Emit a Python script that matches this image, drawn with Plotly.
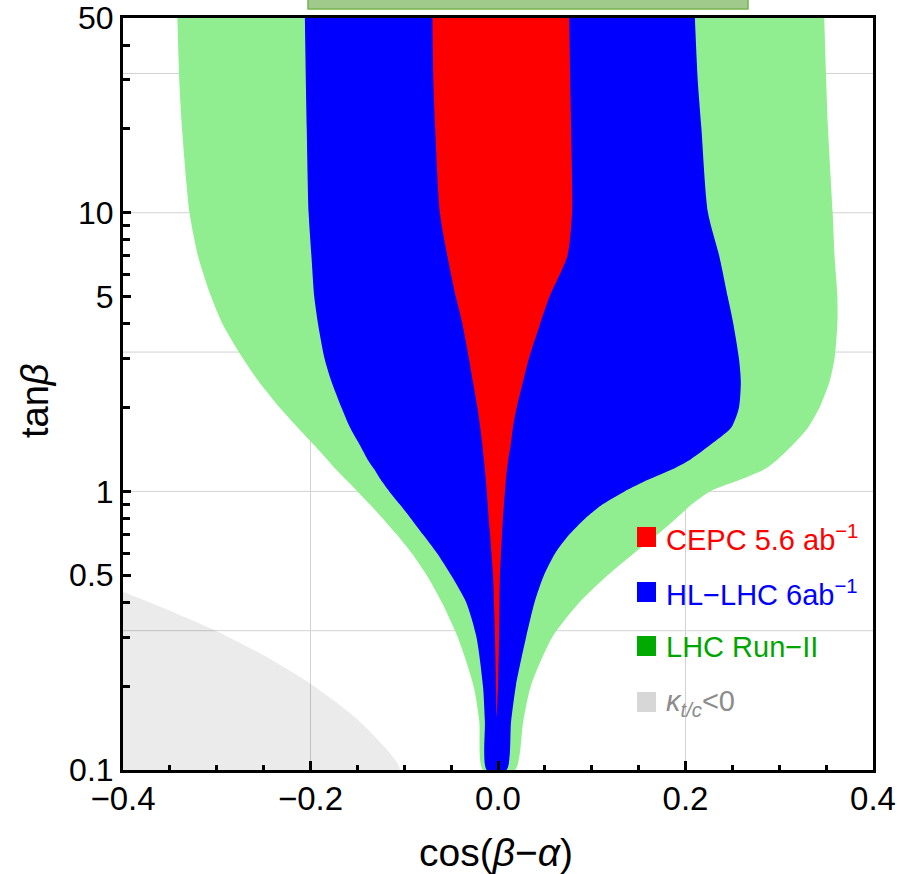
import math
import plotly.graph_objects as go

# ---------------- data ----------------
tanb = [50, 30, 20, 10, 7, 5, 4, 3, 2.5, 2, 1.7, 1.5, 1.3, 1.2, 1.1, 1.0,
        0.9, 0.8, 0.7, 0.6, 0.5, 0.4, 0.3, 0.2, 0.15, 0.1]

# LHC Run-II (light green) allowed band: left / right edge in cos(beta-alpha)
lhc_left = [-0.342, -0.340, -0.337, -0.329, -0.320, -0.306, -0.294, -0.272, -0.256,
            -0.233, -0.214, -0.199, -0.182, -0.173, -0.162, -0.150, -0.137, -0.123,
            -0.108, -0.092, -0.076, -0.060, -0.043, -0.026, -0.020, -0.016]
lhc_right = [0.348, 0.350, 0.352, 0.357, 0.359, 0.362, 0.362, 0.359, 0.354, 0.343,
             0.331, 0.317, 0.298, 0.284, 0.258, 0.226, 0.207, 0.190, 0.170, 0.145,
             0.117, 0.087, 0.058, 0.035, 0.027, 0.018]

# HL-LHC 6 ab^-1 (blue)
hl_left = [-0.206, -0.205, -0.204, -0.202, -0.199, -0.196, -0.192, -0.185, -0.178,
           -0.167, -0.158, -0.149, -0.139, -0.132, -0.125, -0.116, -0.105, -0.093,
           -0.080, -0.065, -0.050, -0.034, -0.023, -0.016, -0.014, -0.012]
hl_right = [0.210, 0.213, 0.217, 0.224, 0.236, 0.245, 0.251, 0.257, 0.259, 0.257,
            0.249, 0.230, 0.205, 0.186, 0.160, 0.135, 0.112, 0.093, 0.076, 0.061,
            0.049, 0.039, 0.030, 0.019, 0.014, 0.009]

# CEPC 5.6 ab^-1 (red), ends in a tip
cepc_tanb = [50, 30, 20, 10, 7, 5, 4, 3, 2.5, 2, 1.7, 1.5, 1.3, 1.2, 1.1, 1.0,
             0.9, 0.8, 0.7, 0.6, 0.5, 0.4, 0.3, 0.2, 0.155]
cepc_left = [-0.070, -0.069, -0.067, -0.062, -0.054, -0.045, -0.038, -0.031, -0.027,
             -0.022, -0.019, -0.017, -0.015, -0.014, -0.013, -0.012, -0.011, -0.010,
             -0.0085, -0.007, -0.0053, -0.0043, -0.0032, -0.0021, -0.0016]
cepc_right = [0.076, 0.077, 0.078, 0.079, 0.074, 0.055, 0.045, 0.033, 0.027, 0.020,
              0.016, 0.014, 0.011, 0.0096, 0.0085, 0.0075, 0.0064, 0.0053, 0.0043,
              0.0032, 0.0021, 0.0016, 0.0011, 0.0000, -0.0016]

# kappa_{t/c} < 0 (grey) boundary
kappa_x = [-0.4, -0.35, -0.3, -0.25, -0.2, -0.15, -0.105]
kappa_tanb = [0.436, 0.373, 0.315, 0.258, 0.204, 0.152, 0.1]

x_ticks = [-0.4, -0.2, 0.0, 0.2, 0.4]
x_ticktext = ["\u22120.4", "\u22120.2", "0.0", "0.2", "0.4"]
x_minor = [-0.35, -0.3, -0.25, -0.15, -0.1, -0.05, 0.05, 0.1, 0.15, 0.25, 0.3, 0.35]
y_ticks = [0.1, 0.5, 1, 5, 10, 50]
y_ticktext = ["0.1", "0.5", "1", "5", "10", "50"]
y_minor = [0.2, 0.3, 0.4, 0.6, 0.7, 0.8, 0.9, 2, 3, 4, 6, 7, 8, 9, 20, 30, 40]
x_grid = [-0.2, 0.0, 0.2]
y_grid = [10 ** 1.5, 10, 10 ** 0.5, 1, 10 ** -0.5]

legend_labels = ["CEPC 5.6 ab<sup>\u22121</sup>", "HL\u2212LHC 6ab<sup>\u22121</sup>",
                 "LHC Run\u2212II", "<i>\u03ba</i><sub><i>t/c</i></sub><0"]
legend_text_colors = ["#ff0000", "#0000ff", "#00a600", "#8c8c8c"]
legend_box_colors = ["#ff0000", "#0000ff", "#00aa00", "#d7d7d7"]

# ---------------- figure ----------------
W, H = 897, 874
ML, MR, MT, MB = 123, 24, 18, 104
PW, PH = W - ML - MR, H - MT - MB
YMIN, YMAX = 0.1, 50
FONT = "Liberation Sans, Arial, Helvetica, sans-serif"


def px2paper_x(px):
    return (px - ML) / PW


def px2paper_y(py):
    return (MT + PH - py) / PH


def val2paper_y(v):
    return (math.log10(v) - math.log10(YMIN)) / (math.log10(YMAX) - math.log10(YMIN))


fig = go.Figure()

# grey kappa region
fig.add_trace(go.Scatter(
    x=kappa_x + [kappa_x[0]], y=kappa_tanb + [kappa_tanb[-1]],
    fill="toself", fillcolor="rgba(0,0,0,0.08)", mode="lines",
    line=dict(width=0, shape="spline", smoothing=0.6), hoverinfo="skip", showlegend=False))


def band(left, right, yv, color):
    xs = list(left) + list(right)[::-1]
    ys = list(yv) + list(yv)[::-1]
    fig.add_trace(go.Scatter(
        x=xs, y=ys, fill="toself", fillcolor=color, mode="lines",
        line=dict(width=0, color=color, shape="spline", smoothing=0.7),
        hoverinfo="skip", showlegend=False))


band(lhc_left, lhc_right, tanb, "#90ee90")
band(hl_left, hl_right, tanb, "#0000ff")
# red band closing in a single tip point
xs_red = cepc_left + cepc_right[:-1][::-1]
ys_red = cepc_tanb + cepc_tanb[:-1][::-1]
fig.add_trace(go.Scatter(
    x=xs_red, y=ys_red, fill="toself", fillcolor="#ff0000", mode="lines",
    line=dict(width=0, color="#ff0000", shape="spline", smoothing=0.7),
    hoverinfo="skip", showlegend=False))

shapes = []
for gx in x_grid:
    shapes.append(dict(type="line", xref="x", yref="paper", x0=gx, x1=gx, y0=0, y1=1,
                       line=dict(color="#d2d2d2", width=1), layer="below"))
for gy in y_grid:
    p = val2paper_y(gy)
    shapes.append(dict(type="line", xref="paper", yref="paper", x0=0, x1=1, y0=p, y1=p,
                       line=dict(color="#d2d2d2", width=1), layer="below"))

# clipped box at the top of the image
shapes.append(dict(type="rect", xref="paper", yref="paper",
                   x0=px2paper_x(308), x1=px2paper_x(748),
                   y0=px2paper_y(9), y1=px2paper_y(-2),
                   fillcolor="#a0ca8c", line=dict(color="#78b450", width=1.5), layer="above"))

annotations = []
legend_centers = [537, 592, 646, 702]
for lab, tc, bc, cy in zip(legend_labels, legend_text_colors, legend_box_colors, legend_centers):
    shapes.append(dict(type="rect", xref="paper", yref="paper",
                       x0=px2paper_x(637), x1=px2paper_x(656),
                       y0=px2paper_y(cy + 10), y1=px2paper_y(cy - 10),
                       fillcolor=bc, line=dict(width=0), layer="above"))
    annotations.append(dict(xref="paper", yref="paper", x=px2paper_x(664), y=px2paper_y(cy + 1),
                            xanchor="left", yanchor="middle", text=lab, showarrow=False,
                            font=dict(family=FONT, size=29, color=tc)))

annotations.append(dict(xref="paper", yref="paper", x=px2paper_x(496), y=px2paper_y(852),
                        xanchor="center", yanchor="middle", showarrow=False,
                        text="cos(<i>\u03b2</i>\u2212<i>\u03b1</i>)",
                        font=dict(family=FONT, size=39, color="black")))
annotations.append(dict(xref="paper", yref="paper", x=px2paper_x(35), y=px2paper_y(401),
                        xanchor="center", yanchor="middle", showarrow=False, textangle=-90,
                        text="tan<i>\u03b2</i>",
                        font=dict(family=FONT, size=38, color="black")))

fig.update_layout(
    width=W, height=H, margin=dict(l=ML, r=MR, t=MT, b=MB, autoexpand=False),
    paper_bgcolor="white", plot_bgcolor="white",
    shapes=shapes, annotations=annotations, showlegend=False,
    font=dict(family=FONT, color="black"),
)
fig.update_xaxes(
    range=[-0.4, 0.4], tickvals=x_ticks, ticktext=x_ticktext, automargin=False,
    ticks="inside", ticklen=9, tickwidth=3, tickcolor="black", ticklabelstandoff=-3,
    showline=True, linewidth=3, linecolor="black", mirror=True,
    showgrid=False, zeroline=False,
    tickfont=dict(family=FONT, size=33, color="black"),
    minor=dict(tickvals=x_minor, ticks="inside", ticklen=5, tickwidth=3,
               tickcolor="black", showgrid=False),
)
fig.update_yaxes(
    type="log", range=[math.log10(YMIN), math.log10(YMAX)], automargin=False,
    tickvals=y_ticks, ticktext=y_ticktext,
    ticks="inside", ticklen=8, tickwidth=3, tickcolor="black",
    showline=True, linewidth=3, linecolor="black", mirror=True,
    showgrid=False, zeroline=False,
    tickfont=dict(family=FONT, size=32, color="black"),
    minor=dict(tickvals=y_minor, ticks="inside", ticklen=7, tickwidth=3,
               tickcolor="black", showgrid=False),
)

fig.write_html("out.html")
